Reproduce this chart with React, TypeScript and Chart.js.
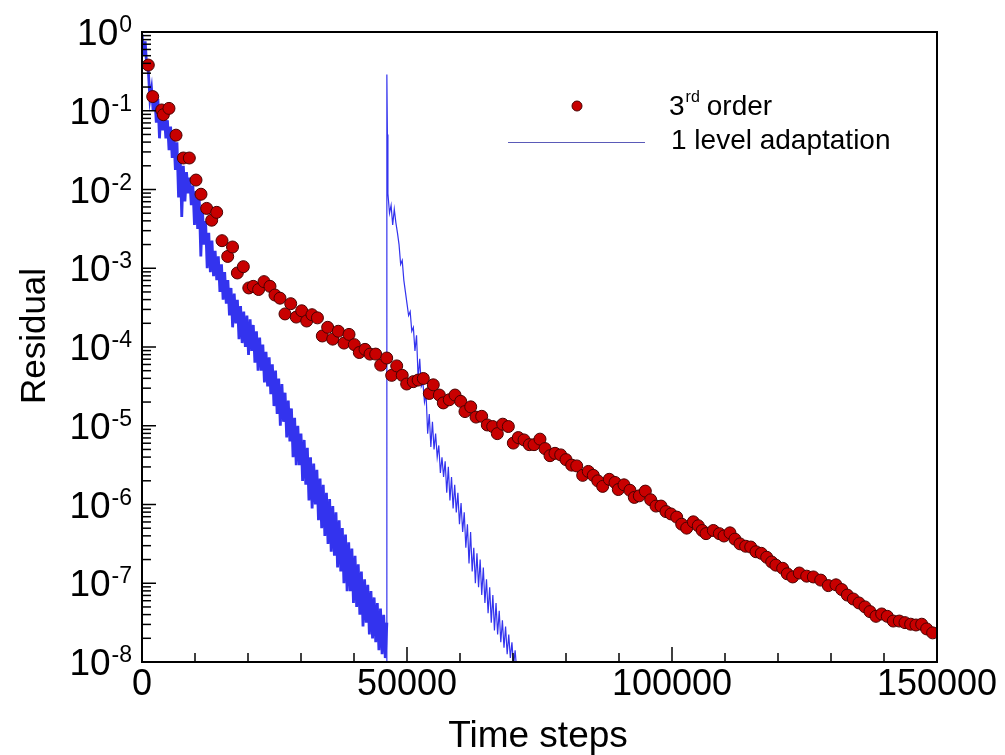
import React, { useEffect, useRef } from "react";
import { Chart, registerables } from "chart.js";

Chart.register(...registerables);

// ---------- axis ticks ----------
const X_MAJOR_TICKS = [0, 50000, 100000, 150000];
const X_MINOR_TICKS = [10000, 20000, 30000, 40000, 60000, 70000, 80000, 90000, 110000, 120000, 130000, 140000];
const Y_EXPONENTS = [0, -1, -2, -3, -4, -5, -6, -7, -8];
const Y_MINOR_MULTIPLIERS = [2, 3, 4, 5, 6, 7, 8, 9];

// ---------- 3rd order (red circles): time step, log10(residual) ----------
const redSteps = [
  1190, 2020, 3710, 4030, 5090, 6420, 7800, 8930, 10190, 11130,
  12200, 13150, 14090, 15100, 16170, 17080, 17990, 19120, 20150, 21000,
  22000, 23020, 24150, 25090, 26040, 26980, 28060, 29100, 30130, 31070,
  32070, 33100, 34020, 35030, 35980, 37040, 38110, 39060, 40060, 41000,
  42080, 43020, 44090, 45040, 46170, 47110, 48060, 49100, 49940, 51190,
  52100, 53080, 54210, 54960, 56100, 56850, 57980, 59060, 60130, 60940,
  62020, 63020, 64090, 65150, 66170, 67040, 68060, 69120, 70060, 71000,
  72080, 73080, 73970, 75090, 76040, 76980, 77920, 79000, 80000, 81070,
  82020, 83150, 84210, 85150, 86000, 86920, 88170, 89250, 89870, 90940,
  92070, 92890, 93830, 94970, 95980, 96980, 97930, 98870, 99810, 100890,
  101830, 102770, 104020, 104960, 105700, 106420, 107800, 108930, 109810, 110940,
  111880, 112830, 113900, 114850, 115850, 116850, 117870, 118810, 119600, 120880,
  121750, 122770, 124020, 125410, 126670, 128060, 129490, 130940, 132020, 133080,
  134210, 135280, 136410, 137350, 138490, 139560, 140620, 141750, 142890, 143960,
  145030, 146030, 147110, 148050, 149180,
];
const redLog10 = [
  -0.42, -0.82, -0.99, -1.05, -0.97, -1.31, -1.6, -1.6, -1.88, -2.06,
  -2.24, -2.39, -2.29, -2.65, -2.85, -2.73, -3.06, -2.98, -3.25, -3.23,
  -3.27, -3.17, -3.23, -3.34, -3.38, -3.58, -3.45, -3.62, -3.54, -3.67,
  -3.59, -3.63, -3.86, -3.75, -3.9, -3.8, -3.95, -3.84, -3.97, -4.07,
  -4.03, -4.09, -4.09, -4.23, -4.14, -4.36, -4.24, -4.36, -4.47, -4.44,
  -4.42, -4.4, -4.59, -4.48, -4.61, -4.71, -4.67, -4.61, -4.69, -4.82,
  -4.76, -4.89, -4.88, -4.99, -5.01, -5.1, -4.98, -5.01, -5.22, -5.15,
  -5.18, -5.24, -5.24, -5.17, -5.29, -5.38, -5.35, -5.37, -5.43, -5.5,
  -5.51, -5.63, -5.58, -5.63, -5.7, -5.77, -5.68, -5.72, -5.81, -5.75,
  -5.82, -5.91, -5.89, -5.83, -5.94, -6.02, -6.02, -6.09, -6.12, -6.16,
  -6.25, -6.3, -6.22, -6.27, -6.33, -6.37, -6.33, -6.37, -6.4, -6.36,
  -6.44, -6.5, -6.53, -6.54, -6.6, -6.62, -6.67, -6.73, -6.77, -6.81,
  -6.88, -6.92, -6.87, -6.91, -6.92, -6.96, -7.03, -7.02, -7.08, -7.15,
  -7.2, -7.25, -7.3, -7.36, -7.42, -7.39, -7.42, -7.48, -7.48, -7.5,
  -7.52, -7.53, -7.52, -7.58, -7.63,
];

// ---------- 1 level adaptation (blue line), sampled every 300 steps ----------
const blueSampleInterval = 300;
const blueRun1Start = 0;
const blueRun1Log10 = [
  -0.03, -0.3, -0.12, -0.45, -0.5, -0.85, -0.72, -1.0, -0.8, -1.15,
  -0.85, -1.35, -0.95, -1.25, -1.05, -1.35, -1.12, -1.5, -1.2, -1.6,
  -1.3, -1.75, -1.4, -2.1, -1.55, -2.35, -1.7, -2.15, -1.78, -2.05,
  -1.85, -2.2, -1.95, -2.45, -2.02, -2.5, -2.12, -2.85, -2.25, -2.7,
  -2.4, -3.0, -2.55, -3.05, -2.65, -3.1, -2.78, -3.15, -2.85, -3.3,
  -2.95, -3.4, -3.05, -3.45, -3.15, -3.6, -3.25, -3.75, -3.32, -3.7,
  -3.4, -3.9, -3.48, -3.95, -3.55, -4.0, -3.6, -4.1, -3.65, -4.05,
  -3.72, -4.2, -3.8, -4.3, -3.88, -4.3, -3.97, -4.45, -4.06, -4.5,
  -4.13, -4.6, -4.22, -4.75, -4.3, -4.85, -4.4, -5.0, -4.47, -4.95,
  -4.58, -5.15, -4.68, -5.2, -4.78, -5.4, -4.9, -5.5, -5.0, -5.5,
  -5.1, -5.7, -5.18, -5.75, -5.28, -5.95, -5.4, -6.05, -5.48, -6.0,
  -5.56, -6.2, -5.67, -6.3, -5.75, -6.4, -5.85, -6.5, -5.93, -6.6,
  -6.02, -6.65, -6.1, -6.8, -6.2, -6.85, -6.3, -7.0, -6.38, -7.1,
  -6.48, -7.1, -6.56, -7.25, -6.65, -7.3, -6.76, -7.4, -6.85, -7.55,
  -6.95, -7.5, -7.02, -7.65, -7.1, -7.7, -7.18, -7.75, -7.25, -7.85,
  -7.32, -7.9, -7.4, -7.95, -7.5,
];
// restart after mesh adaptation
const blueRestartSteps = [46200, 46200, 46300, 46400];
const blueRestartLog10 = [-8.3, -0.54, -1.3, -2.05];
const blueRun2Start = 46700;
const blueRun2Log10 = [
  -2.3, -2.2, -2.45, -2.25, -2.42, -2.55, -2.7, -2.95, -2.9, -3.15,
  -3.3, -3.45, -3.6, -3.55, -3.8, -3.75, -4.05, -3.85, -4.4, -4.15,
  -4.5, -4.45, -4.7, -4.6, -5.1, -4.85, -5.27, -4.95, -5.3, -5.1,
  -5.4, -5.25, -5.6, -5.4, -5.65, -5.45, -5.85, -5.52, -5.95, -5.65,
  -6.05, -5.75, -6.1, -5.85, -6.25, -5.98, -6.35, -6.1, -6.55, -6.25,
  -6.75, -6.35, -6.85, -6.55, -7.0, -6.62, -7.05, -6.7, -7.15, -6.8,
  -7.25, -6.95, -7.38, -7.05, -7.5, -7.15, -7.6, -7.25, -7.65, -7.35,
  -7.75, -7.47, -7.82, -7.55, -7.9, -7.65, -7.95, -7.75, -8.05, -7.85,
  -8.1,
];

const RED_FILL = "#c80000";
const RED_EDGE = "#4a0000";
const BLUE = "#3333ee";
const FONT = '"Liberation Sans", Arial, Helvetica, sans-serif';

const redPoints = redSteps.map((s, i) => ({ x: s, y: Math.pow(10, redLog10[i]) }));
const blueRun1Points = blueRun1Log10.map((v, i) => ({ x: blueRun1Start + i * blueSampleInterval, y: Math.pow(10, v) }));
const blueRun2Points = [
  ...blueRestartSteps.map((s, i) => ({ x: s, y: Math.pow(10, blueRestartLog10[i]) })),
  ...blueRun2Log10.map((v, i) => ({ x: blueRun2Start + i * blueSampleInterval, y: Math.pow(10, v) })),
];

const decorations = {
  id: "decorations",
  afterDraw(chart: any) {
    const { ctx, chartArea: a, scales } = chart;
    const xs = scales.x;
    const ys = scales.y;
    ctx.save();

    ctx.strokeStyle = "#000";
    ctx.lineWidth = 2;
    ctx.strokeRect(a.left, a.top, a.right - a.left, a.bottom - a.top);

    const seg = (x1: number, y1: number, x2: number, y2: number) => {
      ctx.beginPath();
      ctx.moveTo(x1, y1);
      ctx.lineTo(x2, y2);
      ctx.stroke();
    };

    ctx.lineWidth = 1.5;
    for (const e of Y_EXPONENTS) {
      const y = ys.getPixelForValue(Math.pow(10, e));
      seg(a.left, y, a.left + 14, y);
      if (e > -8) {
        for (const m of Y_MINOR_MULTIPLIERS) {
          const yy = ys.getPixelForValue(m * Math.pow(10, e - 1));
          seg(a.left, yy, a.left + 9, yy);
        }
      }
    }
    for (const t of X_MAJOR_TICKS) {
      const x = xs.getPixelForValue(t);
      seg(x, a.bottom, x, a.bottom - 15);
    }
    for (const t of X_MINOR_TICKS) {
      const x = xs.getPixelForValue(t);
      seg(x, a.bottom, x, a.bottom - 9);
    }

    ctx.fillStyle = "#000";
    for (const e of Y_EXPONENTS) {
      const y = ys.getPixelForValue(Math.pow(10, e));
      const exp = String(e);
      ctx.font = `23px ${FONT}`;
      ctx.textAlign = "right";
      ctx.textBaseline = "alphabetic";
      const ew = ctx.measureText(exp).width;
      const right = 132;
      ctx.fillText(exp, right, y);
      ctx.font = `37px ${FONT}`;
      ctx.fillText("10", right - ew - 1, y + 13);
    }
    ctx.font = `36px ${FONT}`;
    ctx.textAlign = "center";
    ctx.textBaseline = "alphabetic";
    for (const t of X_MAJOR_TICKS) {
      ctx.fillText(String(t), xs.getPixelForValue(t), 695);
    }

    ctx.font = `37px ${FONT}`;
    ctx.fillText("Time steps", 538, 747);
    ctx.save();
    ctx.translate(45, 336);
    ctx.rotate(-Math.PI / 2);
    ctx.font = `35px ${FONT}`;
    ctx.textAlign = "center";
    ctx.fillText("Residual", 0, 0);
    ctx.restore();

    ctx.beginPath();
    ctx.arc(577, 106, 5, 0, Math.PI * 2);
    ctx.fillStyle = RED_FILL;
    ctx.fill();
    ctx.lineWidth = 1;
    ctx.strokeStyle = RED_EDGE;
    ctx.stroke();

    ctx.strokeStyle = "#5a5ab8";
    ctx.lineWidth = 1;
    seg(508, 142.5, 645, 142.5);

    ctx.fillStyle = "#000";
    ctx.textAlign = "left";
    ctx.font = `28px ${FONT}`;
    let x = 669;
    ctx.fillText("3", x, 115);
    x += ctx.measureText("3").width + 1;
    ctx.font = `16px ${FONT}`;
    ctx.fillText("rd", x, 102);
    x += ctx.measureText("rd").width + 7;
    ctx.font = `28px ${FONT}`;
    ctx.fillText("order", x, 115);
    ctx.fillText("1 level adaptation", 671, 149);

    ctx.restore();
  },
};

export default function App() {
  const canvasRef = useRef<HTMLCanvasElement | null>(null);

  useEffect(() => {
    const canvas = canvasRef.current;
    if (!canvas) return;
    const chart = new Chart(canvas, {
      type: "scatter",
      data: {
        datasets: [
          {
            label: "3rd order",
            data: redPoints,
            showLine: false,
            pointRadius: 6,
            pointBackgroundColor: RED_FILL,
            pointBorderColor: RED_EDGE,
            pointBorderWidth: 1,
            order: 0,
          },
          {
            label: "1 level adaptation",
            data: blueRun1Points,
            showLine: true,
            borderColor: BLUE,
            borderWidth: 2.8,
            pointRadius: 0,
            tension: 0,
            fill: false,
            order: 1,
          },
          {
            label: "1 level adaptation (restart)",
            data: blueRun2Points,
            showLine: true,
            borderColor: BLUE,
            borderWidth: 1.2,
            pointRadius: 0,
            tension: 0,
            fill: false,
            order: 2,
          },
        ],
      },
      options: {
        responsive: false,
        animation: false,
        devicePixelRatio: 1,
        layout: { padding: { left: 142, top: 32, right: 68, bottom: 93 } },
        plugins: { legend: { display: false }, tooltip: { enabled: false } },
        events: [],
        scales: {
          x: { type: "linear", min: 0, max: 150000, display: false },
          y: { type: "logarithmic", min: 1e-8, max: 1, display: false },
        },
      },
      plugins: [decorations],
    } as any);
    return () => chart.destroy();
  }, []);

  return (
    <div style={{ position: "absolute", left: 0, top: 0, width: 1005, height: 755, background: "#fff" }}>
      <canvas ref={canvasRef} width={1005} height={755} style={{ display: "block" }} />
    </div>
  );
}
